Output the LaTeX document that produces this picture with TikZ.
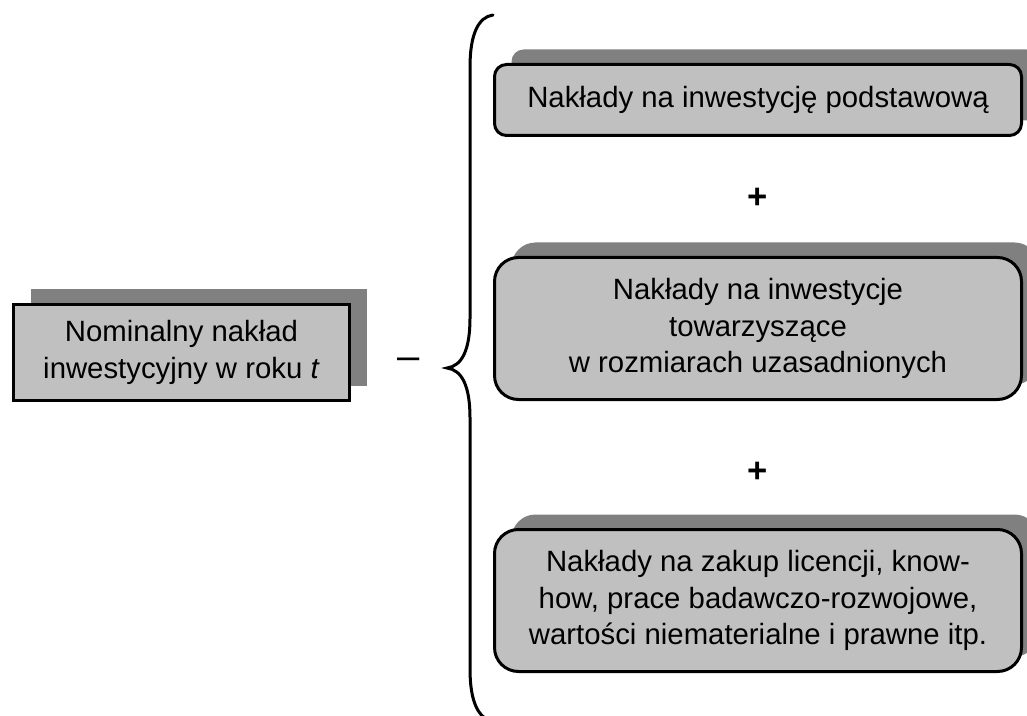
\documentclass[tikz,border=0pt]{standalone}
\usepackage{fontspec}
\setmainfont{Liberation Sans}
\usetikzlibrary{shadows}
\definecolor{boxgray}{HTML}{C0C0C0}
\definecolor{shadowgray}{HTML}{808080}
\begin{document}
\begin{tikzpicture}[x=0.75pt,y=-0.75pt,
  font={\fontsize{22}{27.5}\selectfont},
  basebox/.style={draw=black, line width=2.25pt, fill=boxgray, align=center, inner sep=0pt,
    drop shadow={shadow xshift=12.75pt, shadow yshift=11.25pt, fill=shadowgray, opacity=1}},
  rightbox/.style={basebox, minimum width=395.25pt},
  bracestyle/.style={draw=black, line width=2.25pt, line cap=round},
  signstyle/.style={inner sep=0pt}
]
\useasboundingbox (0,0) rectangle (1027,716);
\clip (0,0) rectangle (1027,716);

\node[basebox, minimum width=252pt, minimum height=72pt] (nom) at (181.5,352.5)
  {Nominalny nakład\\inwestycyjny w roku \textit{t}};

\node[rightbox, minimum height=53.25pt, rounded corners=9pt] (b1) at (758,100)
  {Nakłady na inwestycję podstawową};
\node[rightbox, minimum height=106.5pt, rounded corners=18pt] (b2) at (758,328.5)
  {Nakłady na inwestycje\\towarzyszące\\w rozmiarach uzasadnionych};
\node[rightbox, minimum height=106.5pt, rounded corners=18pt] (b3) at (758,600.5)
  {Nakłady na zakup licencji, know-\\how, prace badawczo-rozwojowe,\\wartości niematerialne i prawne itp.};

\node[signstyle, font={\fontsize{30}{30}\selectfont}] (minus) at (409,364) {–};
\node[signstyle, font={\fontsize{26}{26}\selectfont\bfseries}] (plus1) at (758,198) {+};
\node[signstyle, font={\fontsize{26}{26}\selectfont\bfseries}] (plus2) at (758,472) {+};

\coordinate (bt) at (493,15);
\coordinate (bm) at (447,368);
\coordinate (bb) at (493,721);
\draw[bracestyle] (bt) .. controls (478,17) and (470,35) .. (470,67) -- (470,318)
  .. controls (470,350) and (462,366) .. (bm)
  .. controls (462,370) and (470,386) .. (470,418) -- (470,669)
  .. controls (470,701) and (478,719) .. (bb);
\end{tikzpicture}
\end{document}
